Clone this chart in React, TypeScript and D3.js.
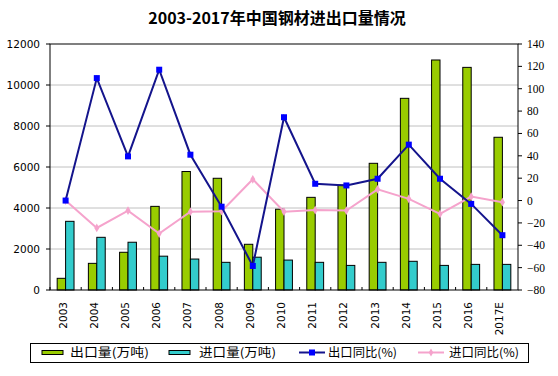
import React from "react";
import * as d3 from "d3";

const years = ["2003","2004","2005","2006","2007","2008","2009","2010","2011","2012","2013","2014","2015","2016","2017E"];
const exportVol = [570, 1300, 1840, 4080, 5780, 5450, 2230, 3940, 4520, 5120, 6180, 9350, 11220, 10860, 7450];
const importVol = [3350, 2570, 2330, 1650, 1510, 1350, 1600, 1460, 1350, 1200, 1350, 1400, 1200, 1250, 1250];
const exportYoY = [0, 109.5, 39.5, 117, 41, -5.5, -58.5, 74.5, 15, 13.5, 19.5, 50, 19.5, -3, -31];
const importYoY = [0, -24.5, -9, -29.5, -10, -9.5, 19, -10, -8.5, -9, 10, 1.5, -12, 3.5, -1.5];
const leftTicks = [0, 2000, 4000, 6000, 8000, 10000, 12000];
const rightTicks = [-80, -60, -40, -20, 0, 20, 40, 60, 80, 100, 120, 140];
const title = "2003-2017年中国钢材进出口量情况";
const legendLabels = ["出口量(万吨)", "进口量(万吨)", "出口同比(%)", "进口同比(%)"];

const W = 558, H = 376;
const L = 50, R = 518, T = 44, B = 290;

export default function App() {
  const x = d3.scaleBand<string>().domain(years).range([L, R]).padding(0);
  const yL = d3.scaleLinear().domain([0, 12000]).range([B, T]);
  const yR = d3.scaleLinear().domain([-80, 140]).range([B, T]);
  const bw = x.bandwidth() * 0.27;
  const cx = (y: string) => (x(y) as number) + x.bandwidth() / 2;

  const line = d3.line<number>().x((_, i) => cx(years[i])).y((d) => yR(d));
  const sansNum = "'DejaVu Sans', Verdana, sans-serif";
  const cjk = "'Noto Sans CJK SC', sans-serif";
  const green = "#99cc00", cyan = "#33cccc", blue = "#14148c", blueM = "#0000ff", pink = "#f5a3cc";

  const legendItems = [
    { kind: "bar", color: green, x0: 42, tx: 70, tl: 79, label: legendLabels[0] },
    { kind: "bar", color: cyan, x0: 169, tx: 199, tl: 77, label: legendLabels[1] },
    { kind: "line", color: blue, mc: blueM, x0: 299, tx: 328, tl: 69, label: legendLabels[2] },
    { kind: "line", color: pink, mc: pink, x0: 418, tx: 449, tl: 70, label: legendLabels[3] },
  ];

  return (
    <svg width={W} height={H} style={{ position: "absolute", left: 0, top: 0, background: "#fff" }}>
      <rect x={0} y={0} width={W} height={H} fill="#fff" />
      <text x={W / 2 - 2} y={24} textAnchor="middle" fontFamily={cjk} fontWeight="bold" fontSize={16}>{title}</text>

      {leftTicks.map((t) => (
        <g key={"g" + t}>
          {t > 0 && t < 12000 && <line x1={L} x2={R} y1={yL(t)} y2={yL(t)} stroke="#c0c0c0" strokeWidth={1} />}
          <line x1={L - 4} x2={L} y1={yL(t)} y2={yL(t)} stroke="#000" />
          <text x={40} y={yL(t) + 4} textAnchor="end" fontFamily={sansNum} fontSize={10.5}>{t}</text>
        </g>
      ))}
      {rightTicks.map((t) => (
        <g key={"r" + t}>
          <line x1={R} x2={R + 4} y1={yR(t)} y2={yR(t)} stroke="#000" />
          <text x={527} y={yR(t) + 4} textAnchor="start" fontFamily="'Liberation Serif', serif" fontSize={11.5}>{t < 0 ? "−" + Math.abs(t) : t}</text>
        </g>
      ))}

      {years.map((y, i) => (
        <g key={"b" + y}>
          <rect x={cx(y) - bw} y={yL(exportVol[i])} width={bw} height={B - yL(exportVol[i])} fill={green} stroke="#000" strokeWidth={1} />
          <rect x={cx(y)} y={yL(importVol[i])} width={bw} height={B - yL(importVol[i])} fill={cyan} stroke="#000" strokeWidth={1} />
        </g>
      ))}

      <path d={line(importYoY) || ""} fill="none" stroke={pink} strokeWidth={2} />
      {importYoY.map((v, i) => (
        <path key={"pm" + i} d={d3.symbol(d3.symbolDiamond, 22)() || ""} transform={`translate(${cx(years[i])},${yR(v)})`} fill={pink} />
      ))}
      <path d={line(exportYoY) || ""} fill="none" stroke={blue} strokeWidth={2} />
      {exportYoY.map((v, i) => (
        <rect key={"bm" + i} x={cx(years[i]) - 3} y={yR(v) - 3} width={6} height={6} fill={blueM} />
      ))}

      {/* frame */}
      <rect x={L} y={T} width={R - L} height={B - T} fill="none" stroke="#000" strokeWidth={1} />
      {years.map((y, i) => (
        <line key={"xt" + i} x1={x(y) as number} x2={x(y) as number} y1={B} y2={B - 3} stroke="#000" />
      ))}
      {years.map((y) => (
        <text key={"xl" + y} transform={`translate(${cx(y) + 1},${302}) rotate(-90)`} textAnchor="end" fontFamily={sansNum} fontSize={10.5}>{y}</text>
      ))}

      {/* legend */}
      <rect x={30.5} y={343.5} width={498} height={19} fill="#fff" stroke="#000" strokeWidth={1} />
      {legendItems.map((it) => (
        <g key={it.label}>
          {it.kind === "bar" ? (
            <rect x={it.x0} y={350.5} width={21} height={4} fill={it.color} stroke="#000" strokeWidth={1} />
          ) : (
            <g>
              <line x1={it.x0} x2={it.x0 + 26} y1={352.5} y2={352.5} stroke={it.color} strokeWidth={2} />
              {it.mc === blueM ? (
                <rect x={it.x0 + 10} y={349.5} width={6} height={6} fill={blueM} />
              ) : (
                <path d={d3.symbol(d3.symbolDiamond, 18)() || ""} transform={`translate(${it.x0 + 13},352.5)`} fill={pink} />
              )}
            </g>
          )}
          <text x={it.tx} y={357} fontFamily={cjk} fontSize={12} textLength={it.tl} lengthAdjust="spacingAndGlyphs">{it.label}</text>
        </g>
      ))}
    </svg>
  );
}
